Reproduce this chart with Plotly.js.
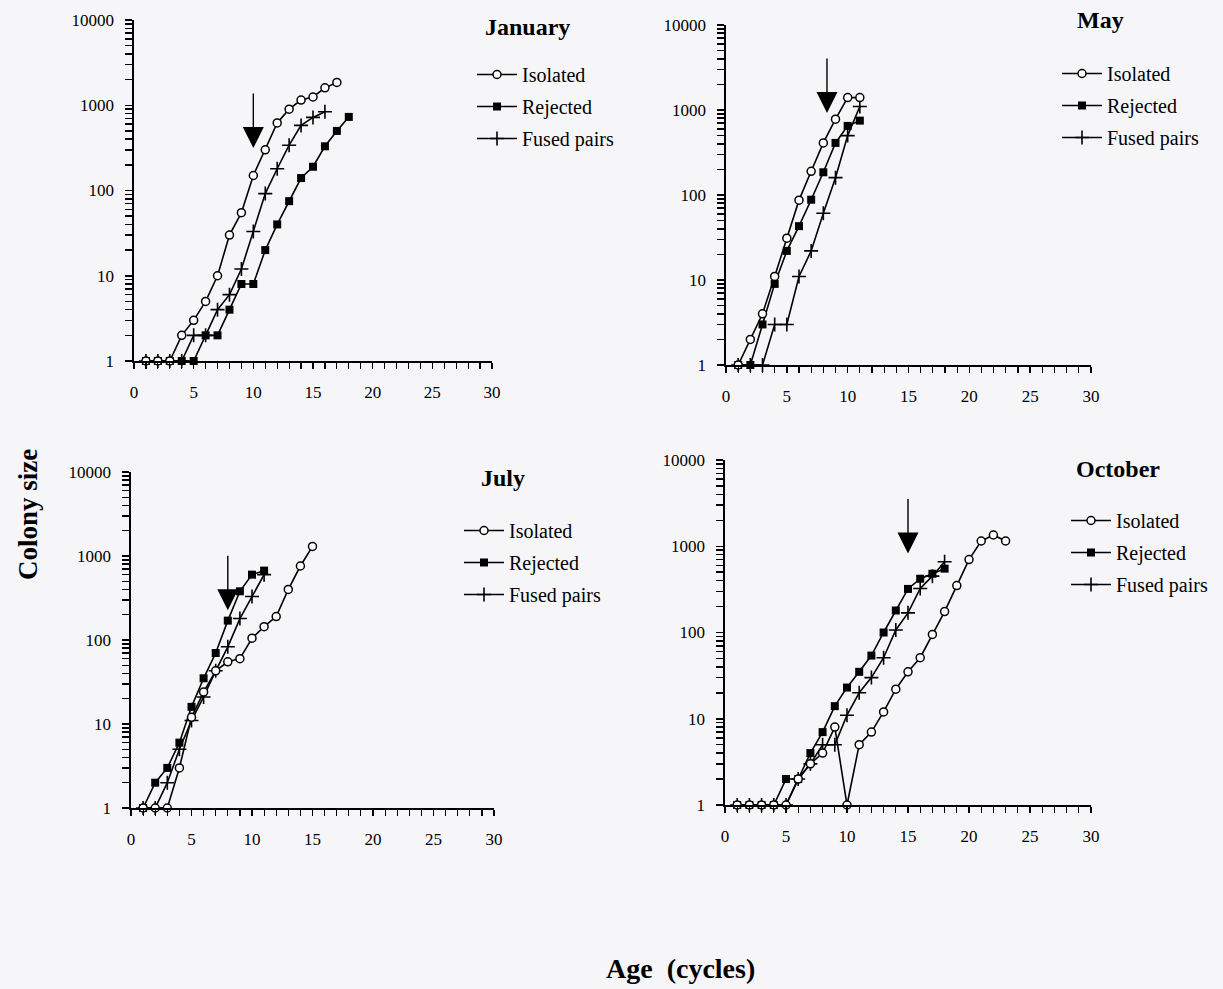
<!DOCTYPE html>
<html>
<head>
<meta charset="utf-8">
<script src="https://cdn.plot.ly/plotly-3.0.1.min.js"></script>
<style>html,body{margin:0;padding:0;background:#f6f6f9;}#chart{width:1223px;height:989px;}</style>
</head>
<body>
<div id="chart"></div>
<script>
// ---------- data ----------
const seriesNames = ["Isolated", "Rejected", "Fused pairs"];
const panelTitles = ["January", "May", "July", "October"];
const xTickVals = [0, 5, 10, 15, 20, 25, 30];
const yTickVals = [1, 10, 100, 1000, 10000];

const janIsoX = [1,2,3,4,5,6,7,8,9,10,11,12,13,14,15,16,17];
const janIso  = [1,1,1,2,3,5,10,30,55,150,300,620,900,1150,1250,1600,1850];
const janRejX = [1,2,3,4,5,6,7,8,9,10,11,12,13,14,15,16,17,18];
const janRej  = [1,1,1,1,1,2,2,4,8,8,20,40,75,140,190,330,500,730];
const janFusX = [1,2,3,4,5,6,7,8,9,10,11,12,13,14,15,16];
const janFus  = [1,1,1,1,2,2,4,6,12,33,92,180,340,580,720,840];

const mayIsoX = [1,2,3,4,5,6,7,8,9,10,11];
const mayIso  = [1,2,4,11,31,87,190,410,780,1400,1400];
const mayRejX = [1,2,3,4,5,6,7,8,9,10,11];
const mayRej  = [1,1,3,9,22,43,88,185,410,650,750];
const mayFusX = [1,2,3,4,5,6,7,8,9,10,11];
const mayFus  = [1,1,1,3,3,11,22,61,160,500,1100];

const julIsoX = [1,2,3,4,5,6,7,8,9,10,11,12,13,14,15];
const julIso  = [1,1,1,3,12,24,43,55,60,105,144,190,400,760,1300];
const julRejX = [1,2,3,4,5,6,7,8,9,10,11];
const julRej  = [1,2,3,6,16,35,70,170,380,600,670];
const julFusX = [1,2,3,4,5,6,7,8,9,10,11];
const julFus  = [1,1,2,5,11,21,43,83,180,330,600];

const octIsoX = [1,2,3,4,5,6,7,8,9,10,11,12,13,14,15,16,17,18,19,20,21,22,23];
const octIso  = [1,1,1,1,1,2,3,4,8,1,5,7,12,22,35,51,95,175,350,700,1150,1350,1150];
const octRejX = [1,2,3,4,5,6,7,8,9,10,11,12,13,14,15,16,17,18];
const octRej  = [1,1,1,1,2,2,4,7,14,23,35,54,100,180,320,420,480,550];
const octFusX = [1,2,3,4,5,6,7,8,9,10,11,12,13,14,15,16,17,18];
const octFus  = [1,1,1,1,1,2,3,5,5,11,20,30,51,107,169,324,450,660];

// arrows marking the event (age, colony size at arrow tip)
const arrowX = [10, 8.3, 8, 15];
const arrowY = [315, 920, 226, 826];

// ---------- layout helpers ----------
const W = 1223, H = 989;
const px = v => v / W;
const py = v => 1 - v / H;
const FONT = "Liberation Serif, Times New Roman, serif";

// y ticks: labelled decades plus unlabelled 2..9 minor positions
const yAllTicks = [], yAllText = [];
yTickVals.forEach(d => {
  yAllTicks.push(d); yAllText.push(String(d));
  if (d < 10000) for (let m = 2; m <= 9; m++) { yAllTicks.push(d * m); yAllText.push(""); }
});

const panels = [
  {data: [[janIsoX, janIso], [janRejX, janRej], [janFusX, janFus]], x0: 134, x1: 492, yTop: 20, yBot: 361,
   title: [527, 27], leg: [472, 55]},
  {data: [[mayIsoX, mayIso], [mayRejX, mayRej], [mayFusX, mayFus]], x0: 726, x1: 1091, yTop: 25, yBot: 365,
   title: [1100, 20], leg: [1057, 54]},
  {data: [[julIsoX, julIso], [julRejX, julRej], [julFusX, julFus]], x0: 131, x1: 494, yTop: 472, yBot: 808,
   title: [503, 478], leg: [459, 511]},
  {data: [[octIsoX, octIso], [octRejX, octRej], [octFusX, octFus]], x0: 725, x1: 1091, yTop: 460, yBot: 805,
   title: [1118, 469], leg: [1066, 501]}
];

const markerStyles = [
  {symbol: "circle", size: 8, color: "#ffffff", line: {color: "#000", width: 1.5}},
  {symbol: "square", size: 8, color: "#000000", line: {color: "#000", width: 0}},
  {symbol: "cross-thin-open", size: 10, color: "#000000", line: {color: "#000", width: 1.6}}
];

const traces = [];
const layout = {
  width: W, height: H,
  margin: {l: 0, r: 0, t: 0, b: 0},
  paper_bgcolor: "#f6f6f9",
  plot_bgcolor: "rgba(0,0,0,0)",
  font: {family: FONT, color: "#000", size: 17},
  showlegend: true,
  annotations: [],
  shapes: []
};

panels.forEach((p, i) => {
  const n = i + 1;
  const xa = "x" + (n === 1 ? "" : n), ya = "y" + (n === 1 ? "" : n);
  const legName = "legend" + (n === 1 ? "" : n);
  [2, 1, 0].forEach(k => {
    traces.push({
      type: "scatter", mode: "lines+markers",
      x: p.data[k][0], y: p.data[k][1],
      name: seriesNames[k],
      xaxis: xa, yaxis: ya,
      legend: legName,
      legendgroup: "g" + n + "_" + k,
      legendrank: k + 1,
      cliponaxis: false,
      line: {color: "#000", width: 1.6},
      marker: markerStyles[k],
      hoverinfo: "x+y+name"
    });
  });
  layout["xaxis" + (n === 1 ? "" : n)] = {
    domain: [px(p.x0), px(p.x1)], anchor: ya,
    range: [0, 30], tickmode: "array", tickvals: xTickVals,
    showline: true, linecolor: "#000", linewidth: 1.6,
    ticks: "outside", ticklen: 6, tickwidth: 1.4, tickcolor: "#000",
    minor: {dtick: 1, tick0: 0, ticks: "outside", ticklen: 6, tickwidth: 1.2, tickcolor: "#000", showgrid: false},
    showgrid: false, zeroline: false, ticklabelstandoff: 9,
    tickfont: {family: FONT, size: 17, color: "#000"}
  };
  layout["yaxis" + (n === 1 ? "" : n)] = {
    domain: [py(p.yBot), py(p.yTop)], anchor: xa,
    type: "log", range: [0, 4], tickmode: "array", tickvals: yAllTicks,
    ticktext: yAllText,
    showline: true, linecolor: "#000", linewidth: 1.6,
    ticks: "outside", ticklen: 7, tickwidth: 1.5, tickcolor: "#000",
    showgrid: false, zeroline: false, ticklabelstandoff: 8,
    tickfont: {family: FONT, size: 17, color: "#000"}
  };
  layout[legName] = {
    x: px(p.leg[0]), y: py(p.leg[1]), xanchor: "left", yanchor: "top",
    xref: "paper", yref: "paper",
    bgcolor: "rgba(0,0,0,0)", borderwidth: 0,
    font: {family: FONT, size: 20, color: "#000"},
    tracegroupgap: 3, itemwidth: 40, traceorder: "grouped"
  };
  layout.annotations.push({
    text: "<b>" + panelTitles[i] + "</b>", xref: "paper", yref: "paper",
    x: px(p.title[0]), y: py(p.title[1]), xanchor: "center", yanchor: "middle",
    showarrow: false, font: {family: FONT, size: 24, color: "#000"}
  });
  layout.annotations.push({
    x: arrowX[i], y: Math.log10(arrowY[i]), xref: xa, yref: ya,
    ax: 0, ay: -56, axref: "pixel", ayref: "pixel",
    showarrow: true, arrowhead: 2, arrowsize: 3.0, arrowwidth: 1.4, arrowcolor: "#000",
    text: ""
  });
});

layout.annotations.push({
  text: "<b>Colony size</b>", xref: "paper", yref: "paper",
  x: px(28), y: py(515), xanchor: "center", yanchor: "middle", textangle: -90,
  showarrow: false, font: {family: FONT, size: 27, color: "#000"}
});
layout.annotations.push({
  text: "<b>Age  (cycles)</b>", xref: "paper", yref: "paper",
  x: px(680), y: py(968), xanchor: "center", yanchor: "middle",
  showarrow: false, font: {family: FONT, size: 28, color: "#000"}
});

Plotly.newPlot("chart", traces, layout, {displayModeBar: false, staticPlot: true});
</script>
</body>
</html>
